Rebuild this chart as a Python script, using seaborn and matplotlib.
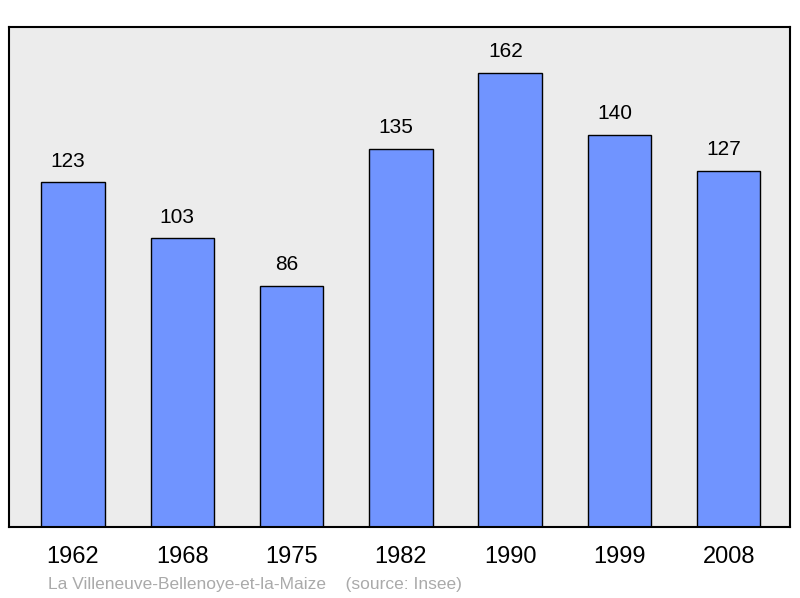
import numpy as np
import pandas as pd
import matplotlib
matplotlib.use('Agg')
import matplotlib.pyplot as plt
import seaborn as sns

# 資料
years = ['1962', '1968', '1975', '1982', '1990', '1999', '2008']
population = [123, 103, 86, 135, 162, 140, 127]

df = pd.DataFrame({'year': years, 'pop': population})

sns.set_style('white')
plt.rcParams['font.family'] = ['Liberation Sans', 'DejaVu Sans']

fig = plt.figure(figsize=(8, 5.98), dpi=100)
ax = fig.add_axes([9 / 800, 71 / 598, 781 / 800, 500 / 598])

sns.barplot(data=df, x='year', y='pop', color='#7094ff', saturation=1,
            width=0.58, edgecolor='black', linewidth=1.0, ax=ax)

# 數值標籤 (略偏左，與原圖相同)
for i, v in enumerate(population):
    ax.text(i - 0.045, v + 7.6, str(v), ha='center', va='center', fontsize=15, color='black')

ax.set_facecolor('#ececec')
ax.set_xlim(-0.585, 6.56)
ax.set_ylim(0, 178.5)
ax.set_yticks([])
ax.set_xlabel('')
ax.set_ylabel('')
ax.tick_params(axis='x', length=0, labelsize=17, pad=14, colors='black')
for s in ax.spines.values():
    s.set_visible(True)
    s.set_color('black')
    s.set_linewidth(1.5)

fig.text(48 / 800, 1 - 584 / 598, 'La Villeneuve-Bellenoye-et-la-Maize    (source: Insee)',
         fontsize=12.5, color='#aaaaaa', ha='left', va='center')

fig.savefig('out.png', dpi=100, facecolor='white')
